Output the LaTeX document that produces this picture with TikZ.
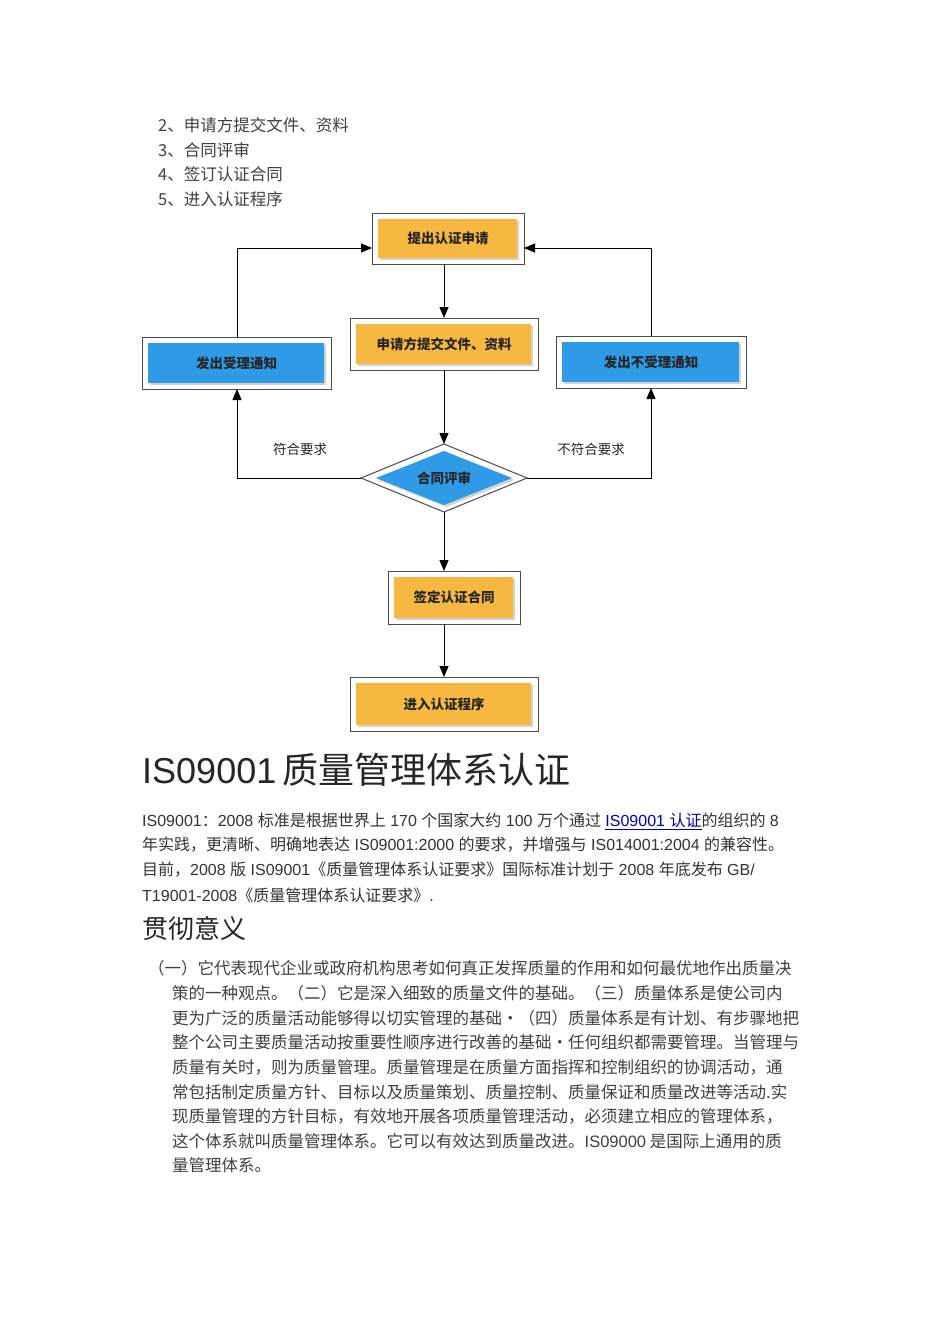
\documentclass[tikz,border=0pt]{standalone}
\usepackage{fontspec}
\setmainfont{Liberation Sans}
\newfontfamily\cjk{Noto Sans CJK SC}
\usetikzlibrary{arrows.meta,shadows}
\definecolor{org}{HTML}{F6B840}
\definecolor{blu}{HTML}{2F9BE6}
\begin{document}
\begin{tikzpicture}[x=1pt,y=-1pt,
 outer/.style={draw=black!70,line width=1pt,fill=white,inner sep=0},
 btxt/.style={font=\cjk\fontsize{13.5}{15}\selectfont\bfseries,text=black!85},
 arr/.style={line width=1pt,-{Triangle[length=11pt,width=9pt]}},
 ln/.style={font=\cjk\fontsize{16.5}{19}\selectfont,text=black!75,anchor=west,inner sep=0},
 pl/.style={font=\fontsize{16}{19}\selectfont,text=black!80,anchor=west,inner sep=0}]
\useasboundingbox (0,0) rectangle (950,1344);
\fill[white] (0,0) rectangle (950,1344);
\node[ln] (l2) at (158,125) {2、申请方提交文件、资料};
\node[ln] (l3) at (158,150) {3、合同评审};
\node[ln] (l4) at (158,174) {4、签订认证合同};
\node[ln] (l5) at (158,199) {5、进入认证程序};
\newcommand{\mybox}[7]{%
 \draw[outer] (#1,#2) rectangle (#3,#4);
 \fill[#5,drop shadow={shadow xshift=2pt,shadow yshift=-2pt,opacity=.35}] (#1+6,#2+6) rectangle (#3-7,#4-6);
 \node[btxt] (#6) at ({(#1+#3)/2},{(#2+#4)/2}) {#7};}
\mybox{372}{213}{524}{264}{org}{a}{提出认证申请}
\mybox{350}{318}{538}{370}{org}{b}{申请方提交文件、资料}
\mybox{142}{337}{331}{389}{blu}{l}{发出受理通知}
\mybox{556}{336}{746}{388}{blu}{r}{发出不受理通知}
\mybox{388}{571}{520}{624}{org}{c}{签定认证合同}
\mybox{350}{677}{538}{731}{org}{d}{进入认证程序}
\draw[black!70,line width=1pt,fill=white] (361,478)--(444,444)--(527,478)--(444,512)--cycle;
\fill[blu,drop shadow={shadow xshift=2pt,shadow yshift=-2pt,opacity=.35}] (376,478)--(444,451)--(512,478)--(444,505)--cycle;
\node[btxt] (dm) at (444,478) {合同评审};
\coordinate (dl) at (361,478); \coordinate (dr) at (527,478);
\coordinate (dt) at (444,444); \coordinate (db) at (444,512);
\draw[arr] (444,264) -- (444,318);
\draw[arr] (444,370) -- (dt);
\draw[arr] (db) -- (444,571);
\draw[arr] (444,624) -- (444,677);
\draw[arr] (237,337) |- (372,248);
\draw[arr] (651,336) |- (524,248);
\draw[arr] (dl) -| (237,389);
\draw[arr] (dr) -| (651,388);
\node[btxt,font=\cjk\fontsize{13.5}{15}\selectfont] (t1) at (300,449) {符合要求};
\node[btxt,font=\cjk\fontsize{13.5}{15}\selectfont] (t2) at (591,449) {不符合要求};
\node[anchor=west,inner sep=0,font=\fontsize{36}{42}\selectfont,text=black!85] (title) at (142,770) {IS09001\,{\cjk 质量管理体系认证}};
\node[pl] (p1) at (142,821) {IS09001{\cjk ：}2008 {\cjk 标准是根据世界上} 170 {\cjk 个国家大约} 100 {\cjk 万个通过} {\color{blue!70!black}\underline{IS09001 {\cjk 认证}}}{\cjk 的组织的} 8};
\node[pl] (p2) at (142,845) {{\cjk 年实践，更清晰、明确地表达} IS09001:2000 {\cjk 的要求，并增强与} IS014001:2004 {\cjk 的兼容性。}};
\node[pl] (p3) at (142,870) {{\cjk 目前，}2008 {\cjk 版} IS09001{\cjk 《质量管理体系认证要求》国际标准计划于} 2008 {\cjk 年底发布} GB/};
\node[pl] (p4) at (142,895) {T19001-2008{\cjk 《质量管理体系认证要求》}.};
\node[anchor=west,inner sep=0,font=\cjk\fontsize{26}{30}\selectfont,text=black!85] (h2) at (142,928) {贯彻意义};
\node[ln] (q1) at (148,968) {（一）它代表现代企业或政府机构思考如何真正发挥质量的作用和如何最优地作出质量决};
\node[ln] (q2) at (172,993) {策的一种观点。（二）它是深入细致的质量文件的基础。（三）质量体系是使公司内};
\node[ln] (q3) at (172,1018) {更为广泛的质量活动能够得以切实管理的基础•（四）质量体系是有计划、有步骤地把};
\node[ln] (q4) at (172,1042) {整个公司主要质量活动按重要性顺序进行改善的基础•任何组织都需要管理。当管理与};
\node[ln] (q5) at (172,1067) {质量有关时，则为质量管理。质量管理是在质量方面指挥和控制组织的协调活动，通};
\node[ln] (q6) at (172,1092) {常包括制定质量方针、目标以及质量策划、质量控制、质量保证和质量改进等活动.实};
\node[ln] (q7) at (172,1116) {现质量管理的方针目标，有效地开展各项质量管理活动，必须建立相应的管理体系，};
\node[ln] (q8) at (172,1141) {这个体系就叫质量管理体系。它可以有效达到质量改进。{\fontspec{Liberation Sans}IS09000} 是国际上通用的质};
\node[ln] (q9) at (172,1165) {量管理体系。};
\end{tikzpicture}
\end{document}
